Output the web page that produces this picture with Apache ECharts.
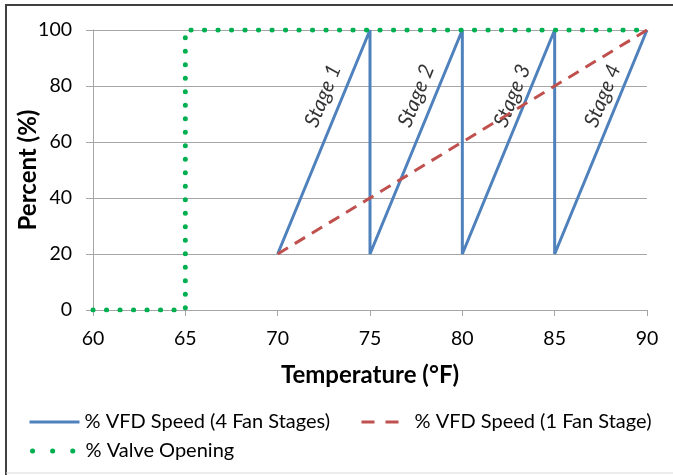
<!DOCTYPE html>
<html>
<head>
<meta charset="utf-8">
<script src="https://cdn.jsdelivr.net/npm/echarts@6/dist/echarts.min.js"></script>
<style>
  html, body { margin: 0; padding: 0; background: #fff; }
  #main { width: 673px; height: 475px; }
</style>
</head>
<body>
<div id="main"></div>
<script>
var myChart = echarts.init(document.getElementById('main'));

// data
var fourStagePts = [[70, 20], [75, 100], [75, 20], [80, 100], [80, 20], [85, 100], [85, 20], [90, 100]];
var oneStagePts = [[70, 20], [90, 100]];
var valvePts = [[60, 0], [65, 0], [65, 100], [90, 100]];
var stageLabels = ['Stage 1', 'Stage 2', 'Stage 3', 'Stage 4'];
var stageLabelPos = [[72.45, 76.5], [77.5, 76.5], [82.7, 76.5], [87.6, 76.5]];
var seriesNames = ['% VFD Speed (4 Fan Stages)', '% VFD Speed (1 Fan Stage)', '% Valve Opening'];

var FONT = 'Lato';
var legendText = { fontSize: 20, color: '#000', fontFamily: FONT };

var option = {
    animation: false,
    textStyle: { fontFamily: FONT },
    grid: { left: 93, right: 26, top: 30, bottom: 165, outerBoundsMode: 'none', containLabel: false },
    legend: [
        {
            left: 28, top: 412, padding: 0, itemWidth: 50, itemHeight: 14,
            itemStyle: { opacity: 0 }, textStyle: legendText,
            lineStyle: { width: 3 },
            data: [seriesNames[0]]
        },
        {
            left: 360, top: 412, padding: 0, itemWidth: 48, itemHeight: 14,
            itemStyle: { opacity: 0 }, textStyle: legendText,
            lineStyle: { width: 3, type: [13, 11] },
            data: [seriesNames[1]]
        },
        {
            left: 28, top: 441, padding: 0, itemWidth: 50, itemHeight: 14,
            itemStyle: { opacity: 0 }, textStyle: legendText,
            lineStyle: { width: 5, type: [0.1, 20], dashOffset: -2, cap: 'round' },
            data: [seriesNames[2]]
        }
    ],
    xAxis: {
        type: 'value', min: 60, max: 90, interval: 5,
        name: 'Temperature (°F)', nameLocation: 'middle', nameGap: 53, nameMoveOverlap: false,
        nameTextStyle: { fontSize: 24, fontWeight: 'bold', color: '#000', fontFamily: FONT },
        axisLine: { lineStyle: { color: '#a6a6a6' } },
        axisTick: { show: true, length: 6, lineStyle: { color: '#a6a6a6' } },
        axisLabel: { fontSize: 19.5, color: '#000', margin: 19, fontFamily: FONT },
        splitLine: { show: false }
    },
    yAxis: {
        type: 'value', min: 0, max: 100, interval: 20,
        name: 'Percent (%)', nameLocation: 'middle', nameGap: 53, nameMoveOverlap: false,
        nameTextStyle: { fontSize: 24, fontWeight: 'bold', color: '#000', fontFamily: FONT },
        axisLine: { show: true, lineStyle: { color: '#a6a6a6' } },
        axisTick: { show: true, length: 7, lineStyle: { color: '#a6a6a6' } },
        axisLabel: { fontSize: 19.5, color: '#000', margin: 21, fontFamily: FONT },
        splitLine: { lineStyle: { color: '#a6a6a6', width: 1 } }
    },
    series: [
        {
            name: seriesNames[0], type: 'line', data: fourStagePts,
            symbol: 'none', color: '#4f81bd',
            lineStyle: { width: 3, color: '#4f81bd' }
        },
        {
            name: seriesNames[1], type: 'line', data: oneStagePts,
            symbol: 'none', color: '#c0504d',
            lineStyle: { width: 3, color: '#c0504d', type: [12, 8] }
        },
        {
            name: seriesNames[2], type: 'line', data: valvePts,
            symbol: 'none', color: '#00b050',
            lineStyle: { width: 5, color: '#00b050', type: [0.1, 13.4], cap: 'round' }
        },
        {
            type: 'scatter', symbolSize: 0, silent: true,
            data: stageLabelPos.map(function (p, i) {
                return { value: p, name: stageLabels[i] };
            }),
            label: {
                show: true, position: 'inside', rotate: 68,
                formatter: '{b}', fontSize: 21, fontStyle: 'italic',
                color: '#000', fontFamily: FONT
            }
        }
    ],
    graphic: [
        { type: 'line', shape: { x1: 5, y1: 5, x2: 673, y2: 5 }, style: { stroke: '#404040', lineWidth: 2 } },
        { type: 'line', shape: { x1: 6, y1: 5, x2: 6, y2: 475 }, style: { stroke: '#404040', lineWidth: 2 } },
        { type: 'line', shape: { x1: 6, y1: 473, x2: 673, y2: 473 }, style: { stroke: '#d9d9d9', lineWidth: 1 } }
    ]
};

myChart.setOption(option);
</script>
</body>
</html>
